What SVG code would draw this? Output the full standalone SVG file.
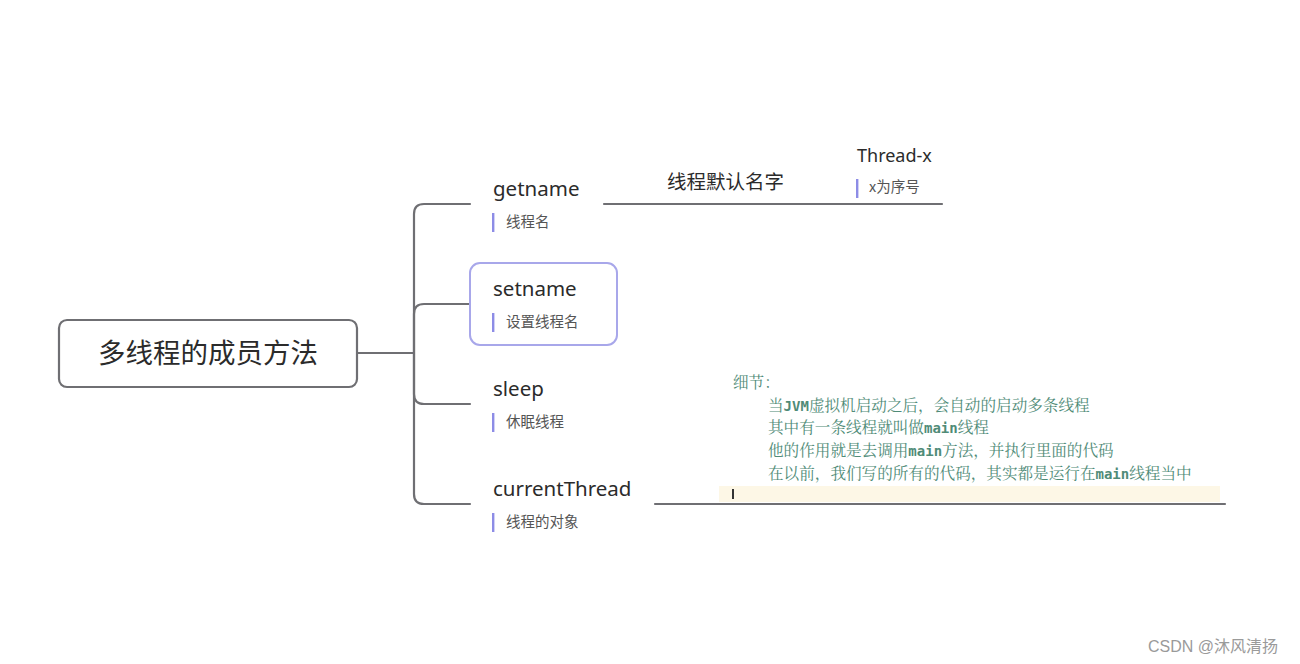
<svg xmlns="http://www.w3.org/2000/svg" width="1300" height="664" viewBox="0 0 1300 664">
<style>
.conn{fill:none;stroke:#6f6f73;stroke-width:2.2;stroke-linecap:round}
.main{font-family:"Noto Sans","Noto Sans CJK SC",sans-serif;font-size:20.5px;fill:#2b2b2b}
.sub{font-family:"Noto Sans CJK SC","Noto Sans",sans-serif;font-size:14.5px;fill:#555555}
.bar{fill:#8d8ce6}
.code{font-family:"Noto Serif CJK SC","Noto Sans CJK SC",serif;font-size:15.6px;fill:#4f8b77}
.mono{font-family:"DejaVu Sans Mono","Liberation Mono",monospace;font-weight:bold;font-size:14px}
</style>
<rect width="1300" height="664" fill="#ffffff"/>

<g id="connectors">
  <path class="conn" d="M357,353 H414"/>
  <path class="conn" d="M470,204 H424 Q414,204 414,214 V494 Q414,504 424,504 H470"/>
  <path class="conn" d="M470,304 H424 Q414,304 414,314 V394 Q414,404 424,404 H470"/>
  <path class="conn" d="M604,204 H942"/>
  <path class="conn" d="M655,504 H1225"/>
</g>

<g id="root">
  <rect x="59" y="320" width="298" height="67" rx="8" fill="#ffffff" stroke="#6f6f73" stroke-width="2.2"/>
  <text x="208" y="363" text-anchor="middle" font-family="Noto Sans CJK SC,sans-serif" font-size="27.5" fill="#2b2b2b">多线程的成员方法</text>
</g>

<g id="getname">
  <text class="main" x="493" y="196">getname</text>
  <rect class="bar" x="492" y="213" width="2.4" height="19"/>
  <text class="sub" x="506" y="227">线程名</text>
</g>

<g id="default-name">
  <text x="667" y="189" font-family="Noto Sans CJK SC,sans-serif" font-size="19.5" fill="#2b2b2b">线程默认名字</text>
</g>

<g id="thread-x">
  <text class="main" x="857" y="162" style="font-size:18px">Thread-x</text>
  <rect class="bar" x="856" y="179" width="2.4" height="19"/>
  <text class="sub" x="869" y="192">x为序号</text>
</g>

<g id="setname">
  <rect x="470" y="263" width="147" height="82" rx="10" fill="#ffffff" stroke="#a8a7ea" stroke-width="2"/>
  <text class="main" x="493" y="296">setname</text>
  <rect class="bar" x="492" y="313" width="2.4" height="19"/>
  <text class="sub" x="506" y="327">设置线程名</text>
</g>

<g id="sleep">
  <text class="main" x="493" y="396">sleep</text>
  <rect class="bar" x="492" y="413" width="2.4" height="19"/>
  <text class="sub" x="506" y="427">休眠线程</text>
</g>

<g id="currentThread">
  <text class="main" x="493" y="496">currentThread</text>
  <rect class="bar" x="492" y="513" width="2.4" height="19"/>
  <text class="sub" x="506" y="527">线程的对象</text>
</g>

<g id="note">
  <rect x="719" y="486" width="501" height="16" fill="#fdf7e6"/>
  <rect x="732" y="489" width="2" height="10" fill="#333333"/>
  <text class="code" x="733" y="388">细节：</text>
  <text class="code" x="768" y="411">当<tspan class="mono">JVM</tspan>虚拟机启动之后，会自动的启动多条线程</text>
  <text class="code" x="768" y="433">其中有一条线程就叫做<tspan class="mono">main</tspan>线程</text>
  <text class="code" x="768" y="456">他的作用就是去调用<tspan class="mono">main</tspan>方法，并执行里面的代码</text>
  <text class="code" x="768" y="479">在以前，我们写的所有的代码，其实都是运行在<tspan class="mono">main</tspan>线程当中</text>
</g>

<text x="1148" y="652" font-family="Liberation Sans,Noto Sans CJK SC,sans-serif" font-size="16" fill="#9a9a9a">CSDN @沐风清扬</text>
</svg>
